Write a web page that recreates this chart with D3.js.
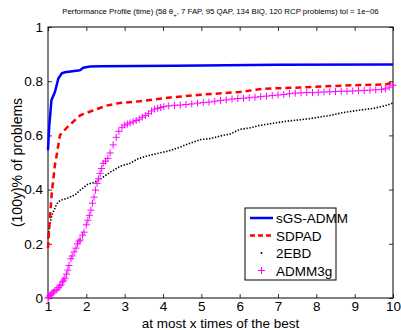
<!DOCTYPE html>
<html>
<head>
<meta charset="utf-8">
<script src="https://cdn.jsdelivr.net/npm/d3@7"></script>
<style>
  body { margin: 0; background: #fff; }
  text { font-family: "Liberation Sans", Arial, sans-serif; fill: #000; }
</style>
</head>
<body>
<script>
// series
var xTicks = [1, 2, 3, 4, 5, 6, 7, 8, 9, 10];
var yTicks = [0, 0.2, 0.4, 0.6, 0.8, 1];
var seriesNames = ["sGS-ADMM", "SDPAD", "2EBD", "ADMM3g"];

var sgsX = [1.0, 1.03, 1.09, 1.18, 1.27, 1.36, 1.44, 1.83, 1.92, 2.1, 2.36, 4.3, 7.0, 10];
var sgsY = [0.545, 0.63, 0.73, 0.76, 0.81, 0.829, 0.833, 0.84, 0.85, 0.854, 0.855, 0.857, 0.861, 0.862];

var sdpadX = [1.0, 1.03, 1.1, 1.18, 1.23, 1.31, 1.5, 1.84, 2.17, 2.53, 2.88, 3.4, 4.18, 4.97, 6.0, 6.6, 7.6, 8.9, 9.8, 10];
var sdpadY = [0.184, 0.26, 0.39, 0.49, 0.53, 0.6, 0.63, 0.674, 0.692, 0.71, 0.72, 0.726, 0.74, 0.75, 0.76, 0.772, 0.777, 0.785, 0.788, 0.795];

var ebdX = [1.0, 1.03, 1.06, 1.1, 1.16, 1.22, 1.28, 1.36, 1.5, 1.7, 1.84, 2.04, 2.22, 2.48, 2.62, 2.88, 3.14, 3.35, 3.6, 4.0, 4.2, 4.5, 4.7, 5.0, 5.23, 5.5, 5.75, 6.0, 6.27, 6.5, 6.87, 7.2, 7.6, 7.84, 8.36, 8.7, 9.06, 9.5, 9.75, 9.85, 10];
var ebdY = [0.22, 0.25, 0.28, 0.305, 0.324, 0.345, 0.356, 0.362, 0.368, 0.38, 0.398, 0.42, 0.427, 0.45, 0.464, 0.486, 0.497, 0.514, 0.525, 0.538, 0.545, 0.56, 0.571, 0.585, 0.588, 0.598, 0.605, 0.622, 0.628, 0.636, 0.645, 0.652, 0.658, 0.662, 0.674, 0.684, 0.692, 0.7, 0.708, 0.712, 0.719];

var admmX = [1.0, 1.02, 1.05, 1.08, 1.1, 1.14, 1.18, 1.23, 1.27, 1.31, 1.34, 1.38, 1.41, 1.44, 1.48, 1.52, 1.55, 1.6, 1.63, 1.68, 1.73, 1.77, 1.81, 1.84, 1.9, 1.94, 2.0, 2.04, 2.08, 2.12, 2.16, 2.2, 2.24, 2.28, 2.32, 2.36, 2.4, 2.44, 2.5, 2.56, 2.62, 2.7, 2.78, 2.85, 2.93, 3.0, 3.07, 3.14, 3.22, 3.3, 3.38, 3.46, 3.54, 3.62, 3.7, 3.78, 3.86, 3.94, 4.02, 4.15, 4.3, 4.45, 4.6, 4.75, 4.9, 5.05, 5.2, 5.35, 5.5, 5.65, 5.8, 5.95, 6.1, 6.25, 6.4, 6.55, 6.7, 6.85, 7.0, 7.15, 7.3, 7.45, 7.6, 7.75, 7.9, 8.05, 8.2, 8.35, 8.5, 8.65, 8.8, 8.95, 9.1, 9.25, 9.4, 9.55, 9.7, 9.8, 9.9, 10];
var admmY = [0.0, 0.003, 0.008, 0.012, 0.018, 0.022, 0.027, 0.03, 0.038, 0.045, 0.048, 0.06, 0.066, 0.073, 0.088, 0.103, 0.12, 0.145, 0.155, 0.17, 0.184, 0.2, 0.21, 0.214, 0.232, 0.243, 0.27, 0.287, 0.305, 0.324, 0.35, 0.372, 0.398, 0.423, 0.44, 0.46, 0.478, 0.497, 0.505, 0.515, 0.535, 0.565, 0.593, 0.615, 0.63, 0.638, 0.642, 0.646, 0.65, 0.655, 0.66, 0.667, 0.673, 0.68, 0.69, 0.697, 0.7, 0.703, 0.706, 0.709, 0.711, 0.712, 0.714, 0.716, 0.719, 0.721, 0.723, 0.726, 0.729, 0.731, 0.734, 0.736, 0.737, 0.739, 0.741, 0.743, 0.745, 0.747, 0.749, 0.751, 0.754, 0.756, 0.757, 0.758, 0.758, 0.759, 0.76, 0.761, 0.762, 0.763, 0.763, 0.764, 0.765, 0.766, 0.767, 0.768, 0.77, 0.772, 0.778, 0.785];

var width = 401, height = 330;
var plotLeft = 48, plotRight = 393, plotTop = 27, plotBottom = 298;

var svg = d3.select("body").append("svg")
  .attr("width", width)
  .attr("height", height);

var x = d3.scaleLinear().domain([1, 10]).range([plotLeft, plotRight]);
var y = d3.scaleLinear().domain([0, 1]).range([plotBottom, plotTop]);

function zip(xs, ys) {
  return xs.map(function(v, i) { return [v, ys[i]]; });
}
var line = d3.line().x(function(d) { return x(d[0]); }).y(function(d) { return y(d[1]); });

// title
var title = svg.append("text")
  .attr("x", (plotLeft + plotRight) / 2)
  .attr("y", 14)
  .attr("text-anchor", "middle")
  .style("font-size", "7.8px");
title.append("tspan").text("Performance Profile (time) (58 \u03b8");
title.append("tspan").attr("dy", 3).style("font-size", "6px").text("+");
title.append("tspan").attr("dy", -3).text(", 7 FAP, 95 QAP, 134 BIQ, 120 RCP problems) tol = 1e\u221206");

// axes: ticks inside on all four sides
var gx = svg.append("g").attr("transform", "translate(0," + plotBottom + ")")
  .call(d3.axisBottom(x).tickValues(xTicks).tickSize(-4).tickPadding(3).tickFormat(d3.format("d")));
var gxt = svg.append("g").attr("transform", "translate(0," + plotTop + ")")
  .call(d3.axisTop(x).tickValues(xTicks).tickSize(-4).tickFormat(""));
var gy = svg.append("g").attr("transform", "translate(" + plotLeft + ",0)")
  .call(d3.axisLeft(y).tickValues(yTicks).tickSize(-4).tickPadding(5).tickFormat(function(d) { return d === 0 || d === 1 ? d3.format("d")(d) : d3.format(".1f")(d); }));
var gyr = svg.append("g").attr("transform", "translate(" + plotRight + ",0)")
  .call(d3.axisRight(y).tickValues(yTicks).tickSize(-4).tickFormat(""));

[gx, gxt, gy, gyr].forEach(function(g) {
  g.select(".domain").remove();
  g.selectAll(".tick line").attr("stroke", "#000").attr("stroke-width", 0.8);
  g.selectAll(".tick text").style("font-size", "13.5px").attr("fill", "#000").style("font-family", "Liberation Sans, Arial, sans-serif");
});

svg.append("rect")
  .attr("x", plotLeft).attr("y", plotTop)
  .attr("width", plotRight - plotLeft).attr("height", plotBottom - plotTop)
  .attr("fill", "none").attr("stroke", "#000").attr("stroke-width", 1);

// series
var plot = svg.append("g");

// 2EBD - dots
plot.append("path")
  .datum(zip(ebdX, ebdY))
  .attr("d", line)
  .attr("fill", "none")
  .attr("stroke", "#000")
  .attr("stroke-width", 1.6)
  .attr("stroke-dasharray", "1.4,1.6");

// ADMM3g - plus markers
plot.append("g").selectAll("path")
  .data(zip(admmX, admmY))
  .enter().append("path")
  .attr("d", function(d) {
    var cx = x(d[0]), cy = y(d[1]), r = 3.5;
    return "M" + (cx - r) + "," + cy + "H" + (cx + r) + "M" + cx + "," + (cy - r) + "V" + (cy + r);
  })
  .attr("stroke", "#ff00ff")
  .attr("stroke-width", 1)
  .attr("fill", "none");

// SDPAD - red dashed
plot.append("path")
  .datum(zip(sdpadX, sdpadY))
  .attr("d", line)
  .attr("fill", "none")
  .attr("stroke", "#ff0000")
  .attr("stroke-width", 2.5)
  .attr("stroke-dasharray", "6,4");

// sGS-ADMM - blue solid
plot.append("path")
  .datum(zip(sgsX, sgsY))
  .attr("d", line)
  .attr("fill", "none")
  .attr("stroke", "#0000ff")
  .attr("stroke-width", 2.5);

// axis labels
svg.append("text")
  .attr("x", (plotLeft + plotRight) / 2)
  .attr("y", 328)
  .attr("text-anchor", "middle")
  .style("font-size", "13.5px")
  .text("at most x times of the best");

svg.append("text")
  .attr("transform", "translate(22," + ((plotTop + plotBottom) / 2) + ") rotate(-90)")
  .attr("text-anchor", "middle")
  .style("font-size", "14px")
  .text("(100y)% of problems");

// legend
var legend = svg.append("g");
legend.append("rect")
  .attr("x", 245).attr("y", 208).attr("width", 91).attr("height", 72)
  .attr("fill", "#fff").attr("stroke", "#000").attr("stroke-width", 1);

var legendY = [218, 235.5, 253, 270.5];
var legendItems = legend.selectAll("g.item")
  .data(seriesNames)
  .enter().append("g").attr("class", "item")
  .attr("transform", function(d, i) { return "translate(0," + legendY[i] + ")"; });

legendItems.append("text")
  .attr("x", 276)
  .attr("y", 5)
  .style("font-size", "13.5px")
  .text(function(d) { return d; });

legendItems.each(function(d, i) {
  var g = d3.select(this);
  if (i === 0) {
    g.append("line").attr("x1", 250).attr("x2", 273).attr("stroke", "#0000ff").attr("stroke-width", 2.5);
  } else if (i === 1) {
    g.append("line").attr("x1", 250).attr("x2", 273).attr("stroke", "#ff0000").attr("stroke-width", 2.5).attr("stroke-dasharray", "5,3");
  } else if (i === 2) {
    g.append("circle").attr("cx", 261.5).attr("cy", 0).attr("r", 1).attr("fill", "#000");
  } else {
    g.append("path").attr("d", "M258,0H265M261.5,-3.5V3.5").attr("stroke", "#ff00ff").attr("stroke-width", 1);
  }
});
</script>
</body>
</html>
